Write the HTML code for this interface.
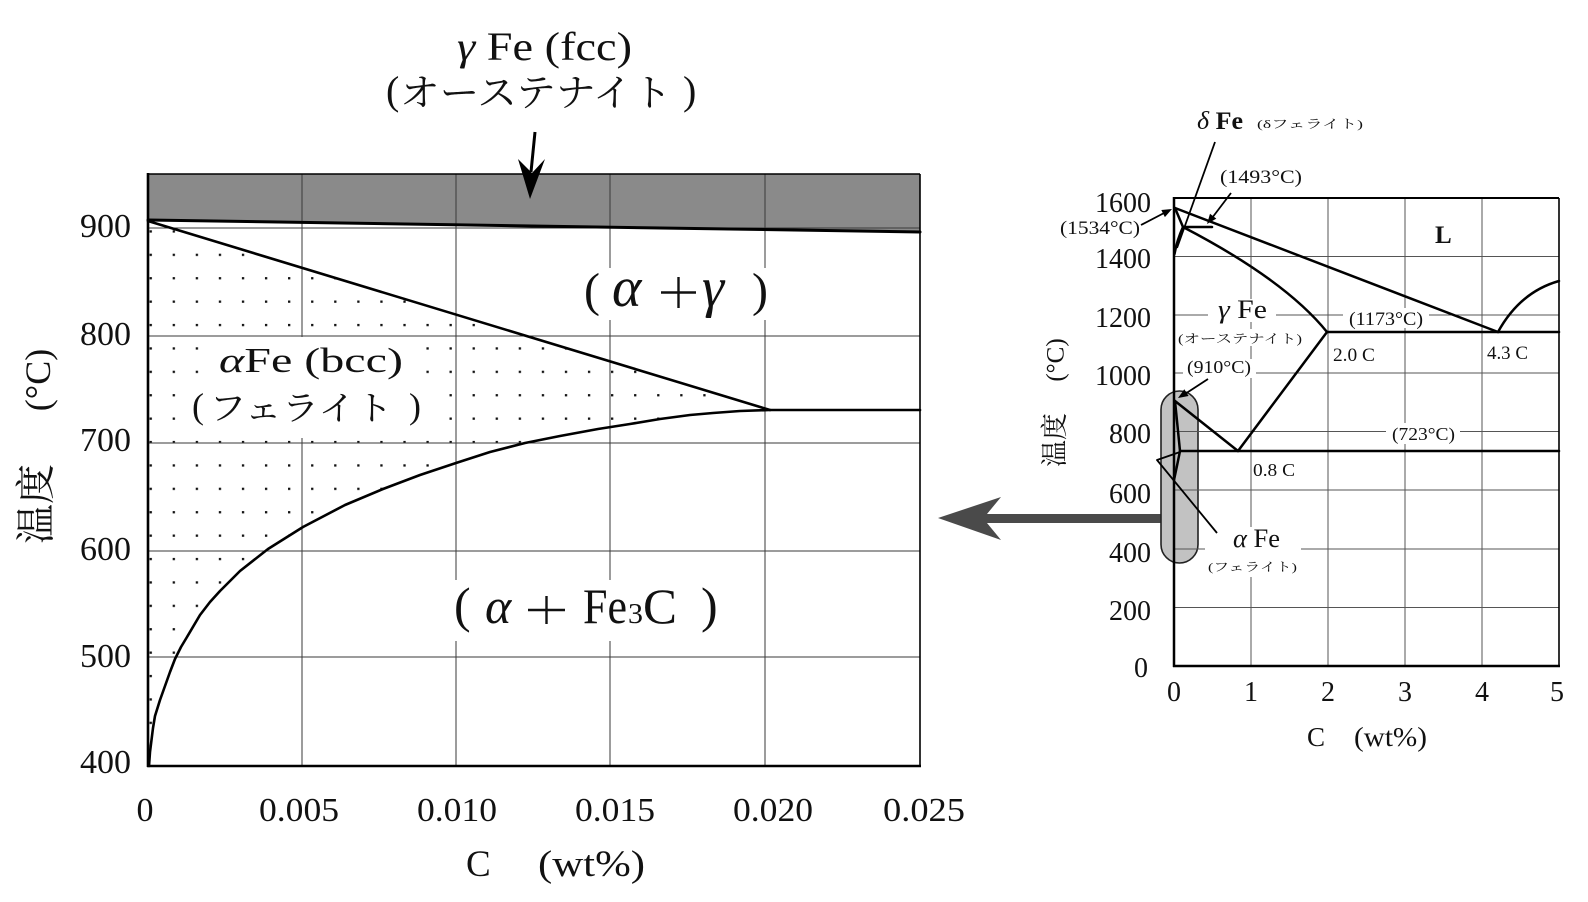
<!DOCTYPE html>
<html><head><meta charset="utf-8"><style>
html,body{margin:0;padding:0;background:#fff;}
svg{display:block;}
.s{font-family:"Liberation Serif","Noto Serif CJK SC",serif;fill:#111;}
.c{font-family:"Liberation Serif","Noto Serif CJK SC",serif;fill:#111;}
</style></head><body>
<svg width="1588" height="902" viewBox="0 0 1588 902" xmlns="http://www.w3.org/2000/svg">
<defs>
<pattern id="dots" x="149.6" y="440.9" width="23.07" height="23.4" patternUnits="userSpaceOnUse"><rect width="2.3" height="2.3" fill="#111"/></pattern>
<clipPath id="aReg"><polygon points="148,221 770,410 740,411 713,413 690,415 660,419 630,424 598,429 560,436 525,443 490,452 456,463 420,475 383,489 345,505 303,527 268,549 240,571 220,591 210,602 200,615 187,637 181,647 175,659 170,672 165,686 160,700 155,716 153,728 151.5,740 150,752 149,766 147,766"/></clipPath>
</defs>
<rect width="1588" height="902" fill="#fff"/>

<!-- ================= LEFT CHART ================= -->
<polygon points="148,174 920,174 920,232 148,220" fill="#8a8a8a"/>
<rect x="146" y="215" width="630" height="555" fill="url(#dots)" clip-path="url(#aReg)"/>
<g stroke="#3a3a3a" stroke-width="1">
<line x1="302" y1="174" x2="302" y2="766"/>
<line x1="456" y1="174" x2="456" y2="766"/>
<line x1="610" y1="174" x2="610" y2="766"/>
<line x1="765" y1="174" x2="765" y2="766"/>
<line x1="148" y1="228" x2="920" y2="228"/>
<line x1="148" y1="336" x2="920" y2="336"/>
<line x1="148" y1="443" x2="920" y2="443"/>
<line x1="148" y1="551" x2="920" y2="551"/>
<line x1="148" y1="657" x2="920" y2="657"/>
</g>
<rect x="210" y="337" width="208" height="46" fill="#fff"/>
<rect x="186" y="383" width="254" height="55" fill="#fff"/>
<rect x="580" y="268" width="192" height="52" fill="#fff"/>
<rect x="450" y="580" width="272" height="61" fill="#fff"/>
<g fill="none" stroke="#000" stroke-linejoin="round" stroke-linecap="round">
<line x1="148" y1="220" x2="920" y2="232" stroke-width="3"/>
<line x1="148" y1="221" x2="770" y2="410" stroke-width="2.6"/>
<polyline stroke-width="2.6" points="149,766 150,752 151.5,740 153,728 155,716 160,700 165,686 170,672 175,659 181,647 187,637 200,615 210,602 220,591 240,571 268,549 303,527 345,505 383,489 420,475 456,463 490,452 525,443 560,436 598,429 630,424 660,419 690,415 713,413 740,411 770,410 920,410"/>
</g>
<g stroke="#000" fill="none">
<line x1="148" y1="174" x2="920" y2="174" stroke-width="1.6"/>
<line x1="920" y1="174" x2="920" y2="766" stroke-width="1.6"/>
<line x1="148" y1="173" x2="148" y2="767" stroke-width="2.6"/>
<line x1="147" y1="766" x2="921" y2="766" stroke-width="2.6"/>
</g>
<line x1="535" y1="132" x2="531" y2="172" stroke="#000" stroke-width="3"/>
<polygon points="530,199 518,159 532,173 545,159" fill="#000"/>

<!-- texts left -->
<text class="s" x="457" y="60" font-size="40" textLength="175" lengthAdjust="spacingAndGlyphs"><tspan font-style="italic">γ</tspan> Fe (fcc)</text>
<text class="s" x="386" y="104" font-size="40">(</text>
<text class="c" x="400" y="106" font-size="38" textLength="272" lengthAdjust="spacingAndGlyphs">オーステナイト</text>
<text class="s" x="683" y="104" font-size="40">)</text>

<text class="s" x="219" y="372" font-size="35" textLength="184" lengthAdjust="spacingAndGlyphs"><tspan font-style="italic">α</tspan>Fe (bcc)</text>
<text class="s" x="192" y="418" font-size="36">(</text>
<text class="c" x="209" y="420" font-size="34" textLength="184" lengthAdjust="spacingAndGlyphs">フェライト</text>
<text class="s" x="409" y="418" font-size="36">)</text>

<g class="s">
<text x="584" y="306" font-size="48">(</text>
<text x="612" y="306" font-size="56" font-style="italic">α</text>
<text x="702" y="306" font-size="56" font-style="italic">γ</text>
<text x="752" y="306" font-size="48">)</text>
</g>
<g stroke="#111" stroke-width="2.4">
<line x1="661" y1="292.5" x2="696" y2="292.5"/>
<line x1="678.5" y1="277" x2="678.5" y2="308"/>
</g>
<g class="s" font-size="50">
<text x="454" y="622">(</text>
<text x="485" y="623" font-style="italic">α</text>
<text x="583" y="623" textLength="44" lengthAdjust="spacingAndGlyphs">Fe</text>
<text x="628" y="623" font-size="28" textLength="15" lengthAdjust="spacingAndGlyphs">3</text>
<text x="643" y="623" textLength="34" lengthAdjust="spacingAndGlyphs">C</text>
<text x="701" y="622">)</text>
</g>
<g stroke="#111" stroke-width="2.4">
<line x1="528" y1="610" x2="565" y2="610"/>
<line x1="546.5" y1="596" x2="546.5" y2="624"/>
</g>

<g class="s" font-size="34" text-anchor="end">
<text x="131" y="237">900</text>
<text x="131" y="345">800</text>
<text x="131" y="451">700</text>
<text x="131" y="560">600</text>
<text x="131" y="667">500</text>
<text x="131" y="773">400</text>
</g>
<g class="s" font-size="34" text-anchor="middle">
<text x="145" y="821">0</text>
<text x="299" y="821" textLength="80" lengthAdjust="spacingAndGlyphs">0.005</text>
<text x="457" y="821" textLength="80" lengthAdjust="spacingAndGlyphs">0.010</text>
<text x="615" y="821" textLength="80" lengthAdjust="spacingAndGlyphs">0.015</text>
<text x="773" y="821" textLength="80" lengthAdjust="spacingAndGlyphs">0.020</text>
<text x="924" y="821" textLength="82" lengthAdjust="spacingAndGlyphs">0.025</text>
</g>
<text class="s" x="466" y="876" font-size="37">C</text>
<text class="s" x="538" y="876" font-size="37" textLength="107" lengthAdjust="spacingAndGlyphs">(wt%)</text>
<text class="c" font-size="40" text-anchor="middle" dominant-baseline="central" transform="translate(36,504) rotate(-90)">温度</text>
<text class="s" font-size="36" text-anchor="middle" dominant-baseline="central" transform="translate(38,380) rotate(-90)">(°C)</text>

<polygon points="938,518 1001,497 987,514 1162,514 1162,523 987,523 1001,540" fill="#4a4a4a"/>

<!-- ================= RIGHT CHART ================= -->
<rect x="1161" y="391" width="37" height="172" rx="18.5" ry="18.5" fill="#c2c2c2" stroke="#222" stroke-width="1.6"/>
<g stroke="#555" stroke-width="1">
<line x1="1251" y1="198" x2="1251" y2="666"/>
<line x1="1328" y1="198" x2="1328" y2="666"/>
<line x1="1405" y1="198" x2="1405" y2="666"/>
<line x1="1482" y1="198" x2="1482" y2="666"/>
<line x1="1174" y1="256.5" x2="1559" y2="256.5"/>
<line x1="1174" y1="315" x2="1559" y2="315"/>
<line x1="1174" y1="373" x2="1559" y2="373"/>
<line x1="1174" y1="431.5" x2="1559" y2="431.5"/>
<line x1="1174" y1="490" x2="1559" y2="490"/>
<line x1="1174" y1="549" x2="1559" y2="549"/>
<line x1="1174" y1="607.5" x2="1559" y2="607.5"/>
</g>
<rect x="1208" y="299" width="68" height="23" fill="#fff"/>
<rect x="1177" y="329" width="127" height="17" fill="#fff"/>
<rect x="1343" y="308" width="86" height="20" fill="#fff"/>
<rect x="1183" y="359" width="73" height="19" fill="#fff"/>
<rect x="1386" y="423" width="74" height="21" fill="#fff"/>
<rect x="1205" y="527" width="96" height="50" fill="#fff"/>

<g fill="none" stroke="#000" stroke-width="2.5" stroke-linejoin="round" stroke-linecap="round">
<line x1="1175" y1="208" x2="1498" y2="332"/>
<line x1="1175" y1="208" x2="1183" y2="227"/>
<line x1="1183" y1="227" x2="1212" y2="227"/>
<path d="M1183,227 Q1177,240 1174.5,254"/>
<path d="M1183,227 Q1285,280 1327,332"/>
<line x1="1327" y1="332" x2="1559" y2="332"/>
<path d="M1498,332 Q1520,292 1559,281"/>
<line x1="1327" y1="332" x2="1238" y2="451"/>
<line x1="1175" y1="401" x2="1238" y2="451"/>
<line x1="1180" y1="451" x2="1559" y2="451"/>
<path d="M1175,401 Q1178,430 1180,451 Q1177,466 1174,480"/>
</g>
<g fill="none" stroke="#000" stroke-width="1.8" stroke-linejoin="round">
<line x1="1215" y1="142" x2="1177" y2="248"/>
<polyline points="1217,533 1157,460 1180,452"/>
<line x1="1141" y1="225" x2="1166" y2="212"/>
<line x1="1231" y1="193" x2="1212" y2="218"/>
<line x1="1208" y1="379" x2="1185" y2="394"/>
</g>
<polygon points="1172,209 1164.9,217.1 1161.3,210" fill="#000"/>
<polygon points="1207,224 1216.3,218.6 1210,213.7" fill="#000"/>
<polygon points="1178,398 1188.6,396 1184.3,389.2" fill="#000"/>
<g stroke="#000" fill="none">
<line x1="1174" y1="198" x2="1559" y2="198" stroke-width="2"/>
<line x1="1559" y1="198" x2="1559" y2="666" stroke-width="1.6"/>
<line x1="1174" y1="197" x2="1174" y2="667" stroke-width="2.5"/>
<line x1="1173" y1="666" x2="1560" y2="666" stroke-width="2.5"/>
</g>

<g class="s" font-size="28" text-anchor="end">
<text x="1151" y="212">1600</text>
<text x="1151" y="268">1400</text>
<text x="1151" y="327">1200</text>
<text x="1151" y="385">1000</text>
<text x="1151" y="443">800</text>
<text x="1151" y="503">600</text>
<text x="1151" y="562">400</text>
<text x="1151" y="620">200</text>
<text x="1148" y="677">0</text>
</g>
<g class="s" font-size="28" text-anchor="middle">
<text x="1174" y="701">0</text>
<text x="1251" y="701">1</text>
<text x="1328" y="701">2</text>
<text x="1405" y="701">3</text>
<text x="1482" y="701">4</text>
<text x="1557" y="701">5</text>
</g>
<text class="s" x="1307" y="746" font-size="27">C</text>
<text class="s" x="1354" y="746" font-size="27" textLength="73" lengthAdjust="spacingAndGlyphs">(wt%)</text>
<text class="c" font-size="27" text-anchor="middle" dominant-baseline="central" transform="translate(1055,440) rotate(-90)">温度</text>
<text class="s" font-size="25" text-anchor="middle" dominant-baseline="central" transform="translate(1056,360) rotate(-90)">(°C)</text>

<text class="s" x="1197" y="129" font-size="25" textLength="46" lengthAdjust="spacingAndGlyphs"><tspan font-style="italic">δ</tspan> <tspan font-weight="bold">Fe</tspan></text>
<text class="c" x="1257" y="128" font-size="12" textLength="106" lengthAdjust="spacingAndGlyphs">(δフェライト)</text>
<text class="s" x="1220" y="183" font-size="19" textLength="82" lengthAdjust="spacingAndGlyphs">(1493°C)</text>
<text class="s" x="1060" y="234" font-size="19" textLength="80" lengthAdjust="spacingAndGlyphs">(1534°C)</text>
<text class="s" x="1435" y="243" font-size="25" font-weight="bold">L</text>
<text class="s" x="1218" y="318" font-size="26" textLength="49" lengthAdjust="spacingAndGlyphs"><tspan font-style="italic">γ</tspan> Fe</text>
<text class="c" x="1178" y="343" font-size="12.5" textLength="124" lengthAdjust="spacingAndGlyphs">(オーステナイト)</text>
<text class="s" x="1349" y="325" font-size="19" textLength="74" lengthAdjust="spacingAndGlyphs">(1173°C)</text>
<text class="s" x="1333" y="361" font-size="19" textLength="42" lengthAdjust="spacingAndGlyphs">2.0 C</text>
<text class="s" x="1487" y="359" font-size="19" textLength="41" lengthAdjust="spacingAndGlyphs">4.3 C</text>
<text class="s" x="1187" y="373" font-size="18" textLength="64" lengthAdjust="spacingAndGlyphs">(910°C)</text>
<text class="s" x="1392" y="440" font-size="18" textLength="63" lengthAdjust="spacingAndGlyphs">(723°C)</text>
<text class="s" x="1253" y="476" font-size="18" textLength="42" lengthAdjust="spacingAndGlyphs">0.8 C</text>
<text class="s" x="1233" y="547" font-size="26" textLength="47" lengthAdjust="spacingAndGlyphs"><tspan font-style="italic">α</tspan> Fe</text>
<text class="c" x="1208" y="571" font-size="12" textLength="89" lengthAdjust="spacingAndGlyphs">(フェライト)</text>
</svg>
</body></html>
